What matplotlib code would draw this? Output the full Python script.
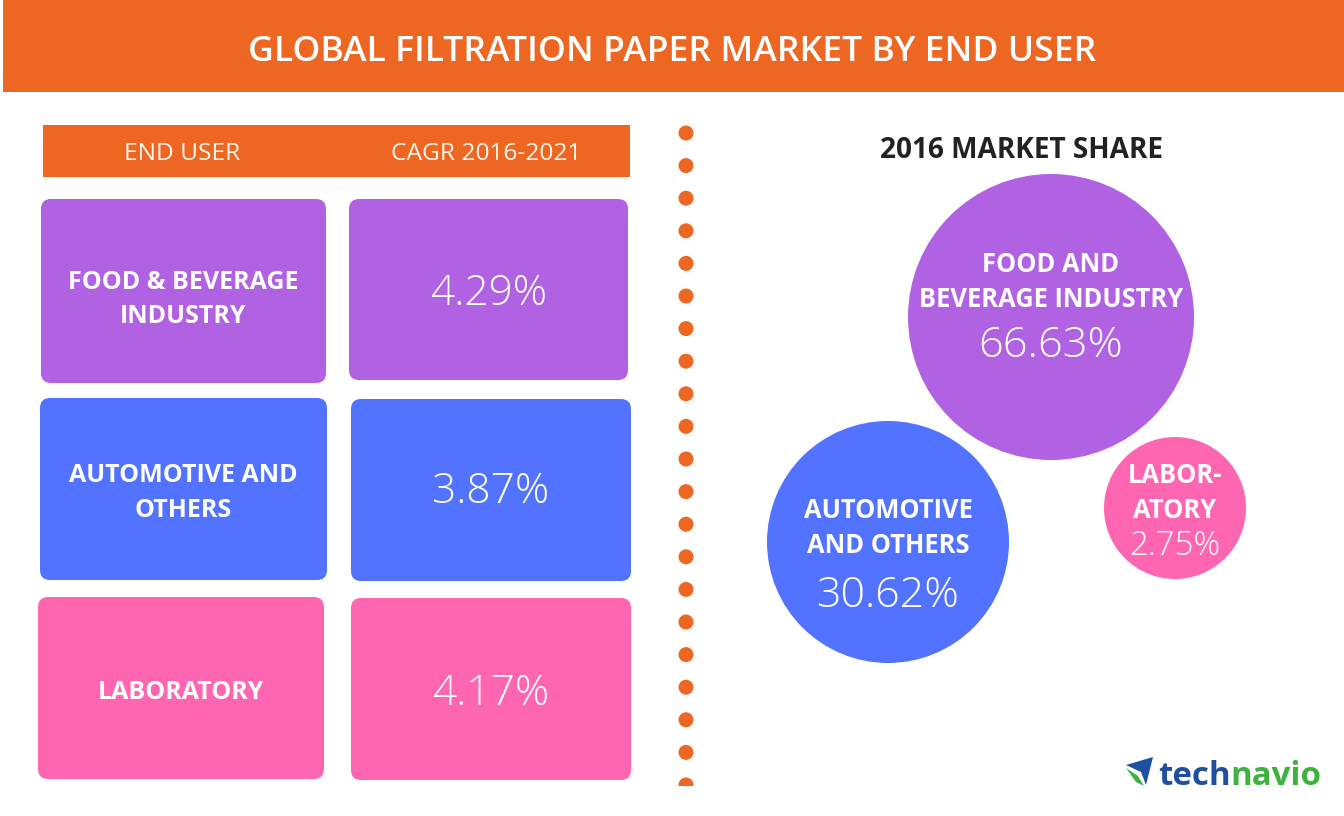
import numpy as np
import matplotlib
matplotlib.use("Agg")
import matplotlib.pyplot as plt
from matplotlib.patches import FancyBboxPatch, Circle, Rectangle, Polygon

# Chart data
end_users = ["FOOD & BEVERAGE\nINDUSTRY", "AUTOMOTIVE AND\nOTHERS", "LABORATORY"]
cagr = [4.29, 3.87, 4.17]
share_labels = ["FOOD AND\nBEVERAGE INDUSTRY", "AUTOMOTIVE\nAND OTHERS", "LABOR-\nATORY"]
share = [66.63, 30.62, 2.75]

title = "GLOBAL FILTRATION PAPER MARKET BY END USER"
col_headers = ["END USER", "CAGR 2016-2021"]
share_title = "2016 MARKET SHARE"

ORANGE = "#EE6722"
colors = ["#B162E2", "#5273FF", "#FF66B2"]
FONT = "Open Sans"

# layout in pixels
left_boxes = [(41, 199, 285, 184), (40, 398, 287, 182), (38, 597, 286, 182)]
right_boxes = [(349, 199, 279, 181), (351, 399, 280, 182), (351, 598, 280, 182)]
label_baselines = [[289, 323], [482, 517], [699]]
pct_baselines = [305, 503, 705]
bubbles = [(1051, 317, 143), (888, 542, 121), (1175, 508, 71)]
bubble_baselines = [[272, 307, 357], [518, 553, 607], [483, 518, 555]]
bubble_pct_size = [43.5, 43, 33]


def px(size):
    return size * 0.72


fig = plt.figure(figsize=(13.44, 8.16), dpi=100)
ax = fig.add_axes([0, 0, 1, 1])
ax.set_xlim(0, 1344)
ax.set_ylim(816, 0)
ax.axis("off")

# banner
ax.add_patch(Rectangle((3, 0), 1341, 92, color=ORANGE, lw=0))
ax.text(672, 61, title, color="white", fontsize=px(35.5), family=FONT,
        weight="semibold", ha="center", va="baseline")

# table header
ax.add_patch(Rectangle((43, 125), 587, 52, color=ORANGE, lw=0))
ax.text(182, 160, col_headers[0], color="#FFF6EC", fontsize=px(24.5), family=FONT,
        ha="center", va="baseline")
ax.text(486, 160, col_headers[1], color="#FFF6EC", fontsize=px(24.5), family=FONT,
        ha="center", va="baseline")

# table rows
for i, (label, val) in enumerate(zip(end_users, cagr)):
    for (x0, y0, w, h) in [left_boxes[i], right_boxes[i]]:
        ax.add_patch(FancyBboxPatch((x0, y0), w, h,
                                    boxstyle="round,pad=0,rounding_size=10",
                                    fc=colors[i], ec="none"))
    lx = left_boxes[i][0] + left_boxes[i][2] / 2
    for line, yb in zip(label.split("\n"), label_baselines[i]):
        ax.text(lx, yb, line, color="white", fontsize=px(25), family=FONT,
                weight="bold", ha="center", va="baseline")
    rx = right_boxes[i][0] + right_boxes[i][2] / 2
    ax.text(rx, pct_baselines[i], f"{val:.2f}%", color="white",
            fontsize=px(42.5), family=FONT, weight="light",
            ha="center", va="baseline")

# dotted divider
clip = Rectangle((0, 0), 1344, 786, transform=ax.transData)
for y in np.arange(133, 800, 32.6):
    c = Circle((686, y), 7.5, color=ORANGE, lw=0)
    ax.add_patch(c)
    c.set_clip_path(clip)

# market share bubbles
ax.text(1021, 158, share_title, color="#222222", fontsize=px(28), family=FONT,
        weight="bold", ha="center", va="baseline")
for (cx, cy, r), col in zip(bubbles, colors):
    ax.add_patch(Circle((cx, cy), r, fc=col, ec="none"))
for k, ((cx, cy, r), label, val) in enumerate(zip(bubbles, share_labels, share)):
    l1, l2 = label.split("\n")
    yb = bubble_baselines[k]
    ax.text(cx, yb[0], l1, color="white", fontsize=px(25.5), family=FONT,
            weight="bold", ha="center", va="baseline")
    ax.text(cx, yb[1], l2, color="white", fontsize=px(25.5), family=FONT,
            weight="bold", ha="center", va="baseline")
    ax.text(cx, yb[2], f"{val:.2f}%", color="white", fontsize=px(bubble_pct_size[k]),
            family=FONT, weight="light", ha="center", va="baseline")

# technavio logo
ax.add_patch(Polygon([(1126, 765), (1153, 757), (1146, 785), (1141, 772)],
                     closed=True, fc="#1F4FA0", ec="none"))
ax.add_patch(Polygon([(1126, 768), (1138, 776), (1144, 786), (1136, 782)],
                     closed=True, fc="#3DB33D", ec="none"))
t1 = ax.text(1158, 785, "tech", color="#1F4FA0", fontsize=px(33), family=FONT,
             weight="bold", ha="left", va="baseline")
fig.canvas.draw()
bb = t1.get_window_extent()
x_end = ax.transData.inverted().transform((bb.x1, bb.y0))[0]
ax.text(x_end, 785, "navio", color="#3DB33D", fontsize=px(33), family=FONT,
        weight="bold", ha="left", va="baseline")

fig.savefig("out.png", dpi=100, facecolor="white")
